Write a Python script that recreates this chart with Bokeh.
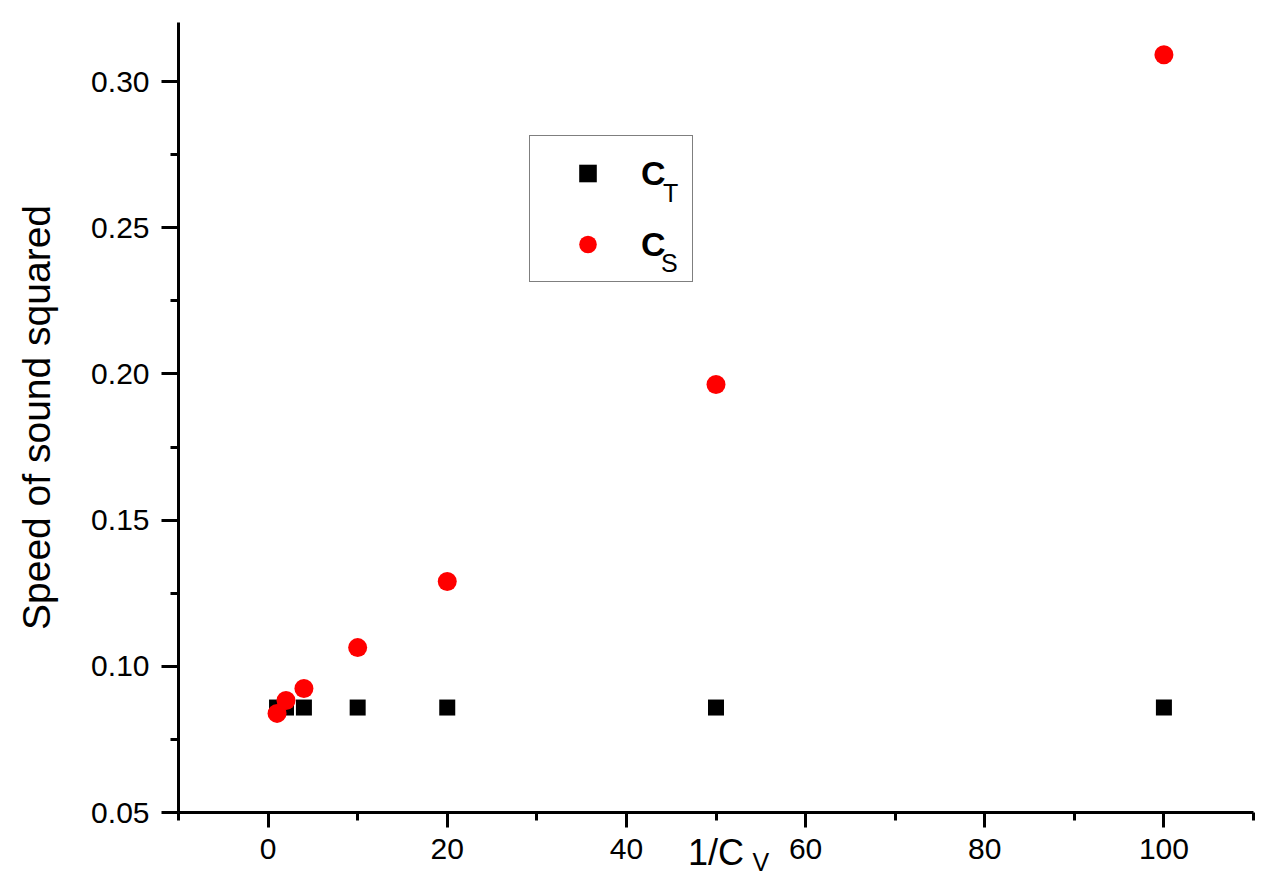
from bokeh.plotting import figure
from bokeh.models import (Range1d, FixedTicker, PrintfTickFormatter, Legend,
                          LegendItem, LinearAxis)
from bokeh.core.properties import value
from bokeh.embed import file_html
from bokeh.resources import INLINE

# ---- data ----
inv_cv = [1, 2, 4, 10, 20, 50, 100]
c_T = [0.0859, 0.0859, 0.0859, 0.0859, 0.0859, 0.0859, 0.0859]
c_S = [0.0839, 0.0883, 0.0924, 0.1064, 0.1290, 0.1964, 0.3092]
x_major = [0, 20, 40, 60, 80, 100]
x_minor = [-10, 10, 30, 50, 70, 90, 110]
y_major = [0.05, 0.10, 0.15, 0.20, 0.25, 0.30]
y_minor = [0.075, 0.125, 0.175, 0.225, 0.275]

FONT = "Liberation Sans"

p = figure(width=1260, height=877,
           x_range=Range1d(-10, 110), y_range=Range1d(0.05, 0.3202),
           output_backend="svg", toolbar_location=None, tools="",
           min_border_left=178, min_border_right=7,
           min_border_top=22, min_border_bottom=65)
p.outline_line_color = None
p.xgrid.grid_line_color = None
p.ygrid.grid_line_color = None
p.background_fill_color = "white"
p.border_fill_color = "white"

p.xaxis.ticker = FixedTicker(ticks=x_major, minor_ticks=x_minor)
p.yaxis.ticker = FixedTicker(ticks=y_major, minor_ticks=y_minor)
p.yaxis.formatter = PrintfTickFormatter(format="%.2f")

for ax in (p.xaxis, p.yaxis):
    ax.axis_line_width = 3
    ax.axis_line_color = "black"
    ax.major_tick_line_width = 3
    ax.minor_tick_line_width = 3
    ax.major_tick_line_color = "black"
    ax.minor_tick_line_color = "black"
    ax.major_tick_in = 0
    ax.minor_tick_in = 0
    ax.minor_tick_out = 8
    ax.major_label_text_font = FONT
    ax.major_label_text_font_size = "30px"
    ax.major_label_text_color = "black"

p.xaxis.major_tick_out = 15
p.yaxis.major_tick_out = 17
p.xaxis.major_label_standoff = 11
p.yaxis.major_label_standoff = 12

p.yaxis.axis_label = "Speed of sound squared"
p.yaxis.axis_label_text_font = FONT
p.yaxis.axis_label_text_font_size = "39px"
p.yaxis.axis_label_text_font_style = "normal"
p.yaxis.axis_label_text_color = "black"
p.yaxis.axis_label_standoff = 30

# second (bare) x axis carrying the x title "1/C" and its subscript "V"
title_axis = LinearAxis(ticker=FixedTicker(ticks=[55], minor_ticks=[]),
                        major_label_overrides={55: "V"},
                        axis_line_color=None, major_tick_line_color=None,
                        minor_tick_line_color=None,
                        major_tick_out=0, major_tick_in=0,
                        minor_tick_out=0, minor_tick_in=0,
                        major_label_text_font=FONT,
                        major_label_text_font_size="25px",
                        major_label_text_color="black",
                        major_label_standoff=-14,
                        axis_label="1/C", axis_label_text_font=FONT,
                        axis_label_text_font_size="36px",
                        axis_label_text_font_style="normal",
                        axis_label_text_color="black",
                        axis_label_standoff=-47)
p.add_layout(title_axis, "below")

sq = p.scatter(inv_cv, c_T, marker="square", size=16,
               fill_color="black", line_color=None)
ci = p.scatter(inv_cv, c_S, marker="circle", size=19,
               fill_color="red", line_color=None)

legend = Legend(items=[LegendItem(label="C", renderers=[sq]),
                       LegendItem(label="C", renderers=[ci])],
                location=(351, 530), orientation="vertical",
                padding=15, spacing=27, margin=0,
                glyph_width=85, glyph_height=44,
                label_height=44, label_width=36, label_standoff=11,
                label_text_font=FONT, label_text_font_size="34px",
                label_text_font_style="bold", label_text_color="black",
                border_line_color="black", border_line_width=1,
                background_fill_alpha=0.0)
p.add_layout(legend, "center")


def xd(px):
    return (px - 267) / 8.96


def yd(py):
    return 0.05 + (812 - py) / 2924.0


# legend subscripts
p.text(x=[xd(662), xd(660)], y=[yd(192), yd(262)], text=["T", "S"],
       text_font=value(FONT), text_font_size="25px", text_color="black",
       text_align="left", text_baseline="alphabetic")

open("out.html", "w").write(file_html(p, INLINE))
